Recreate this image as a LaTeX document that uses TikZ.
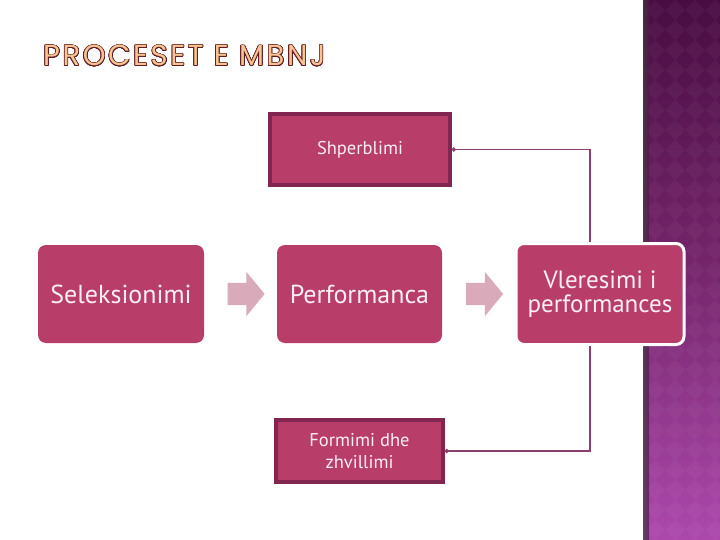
\documentclass[tikz,border=0pt]{standalone}
\usepackage{fontspec}
\setmainfont{PT Sans}
\newfontfamily\titlefont[LetterSpace=9]{Poppins}
\usepackage{contour}
\usetikzlibrary{shapes.arrows,arrows.meta}
\definecolor{boxfill}{RGB}{184,61,104}
\definecolor{boxline}{RGB}{128,38,80}
\definecolor{conncol}{RGB}{140,62,108}
\definecolor{arrowpink}{RGB}{217,170,186}
\definecolor{bandtop}{RGB}{72,12,66}
\definecolor{bandmid}{RGB}{118,38,108}
\definecolor{bandbot}{RGB}{172,72,172}
\definecolor{titlefill}{RGB}{248,196,146}
\definecolor{titleline}{RGB}{96,30,36}
\definecolor{boxtext}{RGB}{252,238,246}

\begin{document}
\begin{tikzpicture}[x=1pt,y=-1pt,
    stage/.style={fill=boxfill, text=boxtext, rounded corners=8pt, align=center, inner sep=2pt},
    framed/.style={fill=boxfill, draw=boxline, line width=3.5pt, text=boxtext, align=center, inner sep=2pt},
    flowarrow/.style={single arrow, fill=arrowpink, inner sep=11pt, minimum height=37pt,
      minimum width=44pt, single arrow head extend=11pt, single arrow tip angle=101},
    conn/.style={draw=conncol, line width=1.6pt, -{Circle[length=4pt]}}]
        \useasboundingbox (0,0) rectangle (720,540);
        \fill[white] (0,0) rectangle (720,540);
        \fill[top color=bandtop, bottom color=bandmid] (643,0) rectangle (720,270);
        \fill[top color=bandmid, bottom color=bandbot] (643,270) rectangle (720,540);
        \foreach \i in {0,...,4} {
          \foreach \j in {0,...,27} {
            \fill[white, opacity=0.035] (655+\i*20,\j*20) -- ++(10,10) -- ++(-10,10) -- ++(-10,-10) -- cycle;
          }
        }
        \fill[left color=black!60, right color=bandmid, opacity=0.45] (643,0) rectangle (649,540);
        \node[anchor=west, inner sep=0pt] (title) at (43,56) {\titlefont\fontsize{29}{29}\selectfont\contourlength{0.7pt}\contournumber{24}\contour{titleline}{\textcolor{titlefill}{PROCESET E MBNJ}}};
        \node[framed, minimum width=180pt, minimum height=71pt, font=\fontsize{18.5}{20}\selectfont] (shp) at (360,149.5) {Shperblimi};
        \node[stage, minimum width=166pt, minimum height=98pt, font=\fontsize{26}{28}\selectfont] (sel) at (121,294) {Seleksionimi};
        \node[stage, minimum width=165pt, minimum height=98pt, font=\fontsize{26}{28}\selectfont] (per) at (359.5,294) {Performanca};
        \node[stage, draw=white, line width=3pt, minimum width=168pt, minimum height=101pt, font=\fontsize{25}{24}\selectfont] (vle) at (600,294) {Vleresimi i\\performances};
        \node[framed, minimum width=167pt, minimum height=62pt, font=\fontsize{18.5}{22}\selectfont] (frm) at (359.5,451) {Formimi dhe\\zhvillimi};
        \node[flowarrow] (a1) at (241.5,294) {};
        \node[flowarrow] (a2) at (480,294) {};
        \draw[conn] ([xshift=-10pt]vle.north) |- (shp.east);
        \draw[conn] ([xshift=-10pt]vle.south) |- (frm.east);
      \end{tikzpicture}
\end{document}
